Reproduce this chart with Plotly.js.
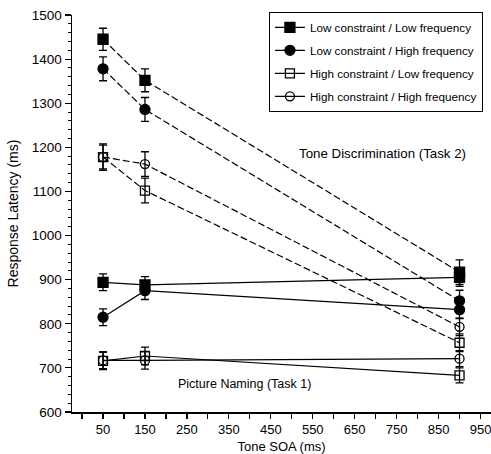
<!DOCTYPE html>
<html><head><meta charset="utf-8">
<script src="https://cdn.plot.ly/plotly-3.0.1.min.js"></script>
<style>html,body{margin:0;padding:0;background:#fff}#chart{width:491px;height:454px}</style>
</head><body><div id="chart"></div>
<script>
const soa = [50, 150, 900];
const seriesNames = ['Low constraint / Low frequency','Low constraint / High frequency','High constraint / Low frequency','High constraint / High frequency'];
// Task 2: Tone Discrimination (dashed)
const t2_LCLF = [1445, 1352, 917];
const t2_LCHF = [1378, 1286, 852];
const t2_HCLF = [1178, 1102, 757];
const t2_HCHF = [1178, 1162, 793];
const t2_LCLF_err = [25, 26, 28];
const t2_LCHF_err = [27, 27, 24];
const t2_HCLF_err = [27, 28, 20];
const t2_HCHF_err = [30, 28, 20];
// Task 1: Picture Naming (solid)
const t1_LCLF = [894, 888, 905];
const t1_LCHF = [815, 875, 832];
const t1_HCLF = [716, 727, 683];
const t1_HCHF = [717, 717, 721];
const t1_LCLF_err = [19, 19, 20];
const t1_LCHF_err = [19, 20, 20];
const t1_HCLF_err = [20, 20, 17];
const t1_HCHF_err = [19, 20, 18];
const xTickVals = [50,150,250,350,450,550,650,750,850,950];
const xTickText = ['50','150','250','350','450','550','650','750','850','950'];

const symbols = ['square','circle','square-open','circle-open'];
const sizes = [10,10,9,9];
const t1 = [t1_LCLF,t1_LCHF,t1_HCLF,t1_HCHF];
const t1e = [t1_LCLF_err,t1_LCHF_err,t1_HCLF_err,t1_HCHF_err];
const t2 = [t2_LCLF,t2_LCHF,t2_HCLF,t2_HCHF];
const t2e = [t2_LCLF_err,t2_LCHF_err,t2_HCLF_err,t2_HCHF_err];

const traces = [];
for (let i=0;i<4;i++){
  traces.push({x:soa,y:t1[i],type:'scatter',mode:'lines+markers',name:seriesNames[i],legendgroup:'g'+i,showlegend:true,
    line:{color:'#000',width:1.2},marker:{symbol:symbols[i],size:sizes[i],color:'#000',line:{color:'#000',width:1.3}},
    error_y:{type:'data',array:t1e[i],visible:true,color:'#000',thickness:1.3,width:4},cliponaxis:false});
}
for (let i=0;i<4;i++){
  traces.push({x:soa,y:t2[i],type:'scatter',mode:'lines+markers',name:seriesNames[i],legendgroup:'g'+i,showlegend:false,
    line:{color:'#000',width:1.2,dash:'7px,3px'},marker:{symbol:symbols[i],size:sizes[i],color:'#000',line:{color:'#000',width:1.3}},
    error_y:{type:'data',array:t2e[i],visible:true,color:'#000',thickness:1.3,width:4},cliponaxis:false});
}

const layout = {
  width:491,height:454,
  margin:{l:72,r:0,t:15,b:42},
  paper_bgcolor:'#fff',plot_bgcolor:'#fff',
  font:{family:'Liberation Sans, Arial, sans-serif',color:'#000',size:13},
  showlegend:true,
  legend:{x:0.47,y:1.008,xanchor:'left',yanchor:'top',bordercolor:'#000',borderwidth:1,bgcolor:'#fff',
    font:{size:11.7},tracegroupgap:4,itemwidth:30},
  xaxis:{range:[-24,975],showgrid:false,zeroline:false,showline:true,linecolor:'#000',linewidth:1.5,
    tickmode:'array',tickvals:xTickVals,ticktext:xTickText,ticks:'outside',ticklen:5,tickwidth:1.2,tickcolor:'#000',
    ticklabeloverflow:'allow',
    minor:{tickmode:'linear',tick0:0,dtick:100,ticks:'outside',ticklen:5,tickwidth:1.2,tickcolor:'#000'},
    tickfont:{size:13},title:{text:'Tone SOA (ms)',font:{size:13},standoff:8}},
  yaxis:{range:[600,1500],showgrid:false,zeroline:false,showline:true,linecolor:'#000',linewidth:1.5,
    tick0:600,dtick:100,ticks:'outside',ticklen:6,tickwidth:1.2,tickcolor:'#000',
    minor:{dtick:20,ticks:'outside',ticklen:3,tickwidth:1,tickcolor:'#000'},
    tickfont:{size:13.5},title:{text:'Response Latency (ms)',font:{size:14},standoff:10}},
  annotations:[
    {x:717,y:1187,xref:'x',yref:'y',text:'Tone Discrimination (Task 2)',showarrow:false,font:{size:13.3}},
    {x:388,y:663,xref:'x',yref:'y',text:'Picture Naming (Task 1)',showarrow:false,font:{size:12.5}}
  ]
};
Plotly.newPlot('chart',traces,layout,{displayModeBar:false,staticPlot:true});
</script></body></html>
